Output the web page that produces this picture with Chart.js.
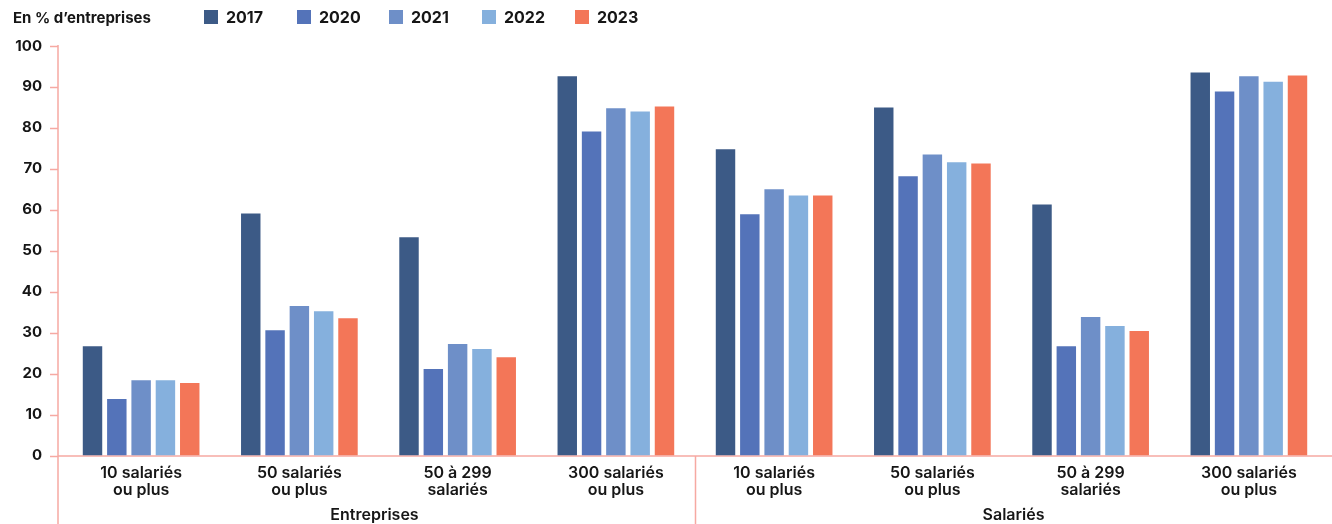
<!DOCTYPE html>
<html>
<head>
<meta charset="utf-8">
<script src="https://cdn.jsdelivr.net/npm/chart.js@4"></script>
<style>
  html, body { margin: 0; padding: 0; background: #ffffff; }
  #wrap { width: 1332px; height: 524px; position: relative; }
</style>
</head>
<body>
<div id="wrap"><canvas id="c"></canvas></div>
<script>
// Categories (two groups of four size classes)
const categories = [
  ['10 salariés', 'ou plus'], ['50 salariés', 'ou plus'], ['50 à 299', 'salariés'], ['300 salariés', 'ou plus'],
  ['10 salariés', 'ou plus'], ['50 salariés', 'ou plus'], ['50 à 299', 'salariés'], ['300 salariés', 'ou plus']
];
const groupLabels = ['Entreprises', 'Salariés'];
const years = ['2017', '2020', '2021', '2022', '2023'];

// Share (%) per year
const v2017 = [26.7, 59.1, 53.3, 92.6, 74.8, 85.0, 61.3, 93.5];
const v2020 = [13.8, 30.6, 21.1, 79.1, 58.9, 68.2, 26.7, 88.9];
const v2021 = [18.4, 36.5, 27.2, 84.8, 65.0, 73.5, 33.8, 92.6];
const v2022 = [18.4, 35.2, 26.0, 84.0, 63.5, 71.6, 31.6, 91.3];
const v2023 = [17.7, 33.5, 24.0, 85.2, 63.5, 71.3, 30.4, 92.8];

const yTicks = [0, 10, 20, 30, 40, 50, 60, 70, 80, 90, 100];
const yTitle = 'En % d\u2019entreprises';

const seriesColors = ['#3c5a86', '#5473b9', '#6e8fc8', '#85b0dd', '#f37658'];
const axisColor = '#f6a9a2';
const textColor = '#161616';
const fontFamily = 'Inter, "Open Sans", "DejaVu Sans", sans-serif';

const seriesValues = [v2017, v2020, v2021, v2022, v2023];

// Axis lines, group separator, group labels and the header legend
const decorPlugin = {
  id: 'decor',
  beforeDatasetsDraw(chart) {
    const { ctx, chartArea: a, scales: { x, y } } = chart;
    const ax = a.left - 4;
    const y0 = y.getPixelForValue(0);
    ctx.save();
    ctx.strokeStyle = axisColor;
    ctx.lineWidth = 1.5;
    ctx.beginPath();
    ctx.moveTo(ax, y.getPixelForValue(100) - 1);
    ctx.lineTo(ax, chart.height);
    yTicks.forEach(t => {
      const py = Math.round(y.getPixelForValue(t)) + 0.5;
      ctx.moveTo(ax - 8, py);
      ctx.lineTo(ax, py);
    });
    ctx.moveTo(ax, y0 + 0.5);
    ctx.lineTo(chart.width, y0 + 0.5);
    const sx = Math.round((x.getPixelForValue(3) + x.getPixelForValue(4)) / 2) + 0.5;
    ctx.moveTo(sx, y0);
    ctx.lineTo(sx, chart.height);
    ctx.stroke();
    ctx.restore();
  },
  afterDraw(chart) {
    const { ctx, chartArea: a, scales: { x } } = chart;
    const ax = a.left - 4;
    const sx = (x.getPixelForValue(3) + x.getPixelForValue(4)) / 2;
    ctx.save();
    ctx.fillStyle = textColor;
    ctx.textBaseline = 'middle';
    // group labels
    ctx.font = '600 16px ' + fontFamily;
    ctx.textAlign = 'center';
    ctx.fillText(groupLabels[0], (ax + sx) / 2 - 2, 515);
    ctx.fillText(groupLabels[1], (sx + chart.width) / 2, 515);
    // header: unit title and legend
    ctx.textAlign = 'left';
    ctx.font = '700 15px ' + fontFamily;
    ctx.fillText(yTitle, 13, 18);
    const legendX = [204, 297, 389, 482, 575];
    ctx.font = '700 16px ' + fontFamily;
    years.forEach((yr, i) => {
      ctx.fillStyle = seriesColors[i];
      ctx.fillRect(legendX[i], 10, 14, 14);
      ctx.fillStyle = textColor;
      ctx.fillText(yr, legendX[i] + 22, 18);
    });
    ctx.restore();
  }
};

new Chart(document.getElementById('c'), {
  type: 'bar',
  data: {
    labels: categories,
    datasets: years.map((yr, i) => ({
      label: yr,
      data: seriesValues[i],
      backgroundColor: seriesColors[i],
      borderWidth: 0,
      barPercentage: 0.8,
      categoryPercentage: 0.768
    }))
  },
  options: {
    responsive: true,
    maintainAspectRatio: false,
    animation: false,
    layout: { padding: { top: 46, right: 4, left: 0, bottom: 0 } },
    plugins: { legend: { display: false }, tooltip: { enabled: false } },
    scales: {
      x: {
        grid: { display: false, drawTicks: false },
        border: { display: false },
        ticks: {
          color: textColor,
          font: { family: fontFamily, size: 16, weight: '600', lineHeight: 1.08 },
          padding: 9,
          maxRotation: 0,
          autoSkip: false
        },
        afterFit(scale) { scale.height = 68.5; }
      },
      y: {
        min: 0,
        max: 100,
        grid: { display: false, drawTicks: false },
        border: { display: false },
        afterBuildTicks(scale) { scale.ticks = yTicks.map(v => ({ value: v })); },
        ticks: {
          color: textColor,
          font: { family: fontFamily, size: 15, weight: '700' },
          padding: 20
        },
        afterFit(scale) { scale.width = 62; }
      }
    }
  },
  plugins: [decorPlugin]
});
</script>
</body>
</html>
